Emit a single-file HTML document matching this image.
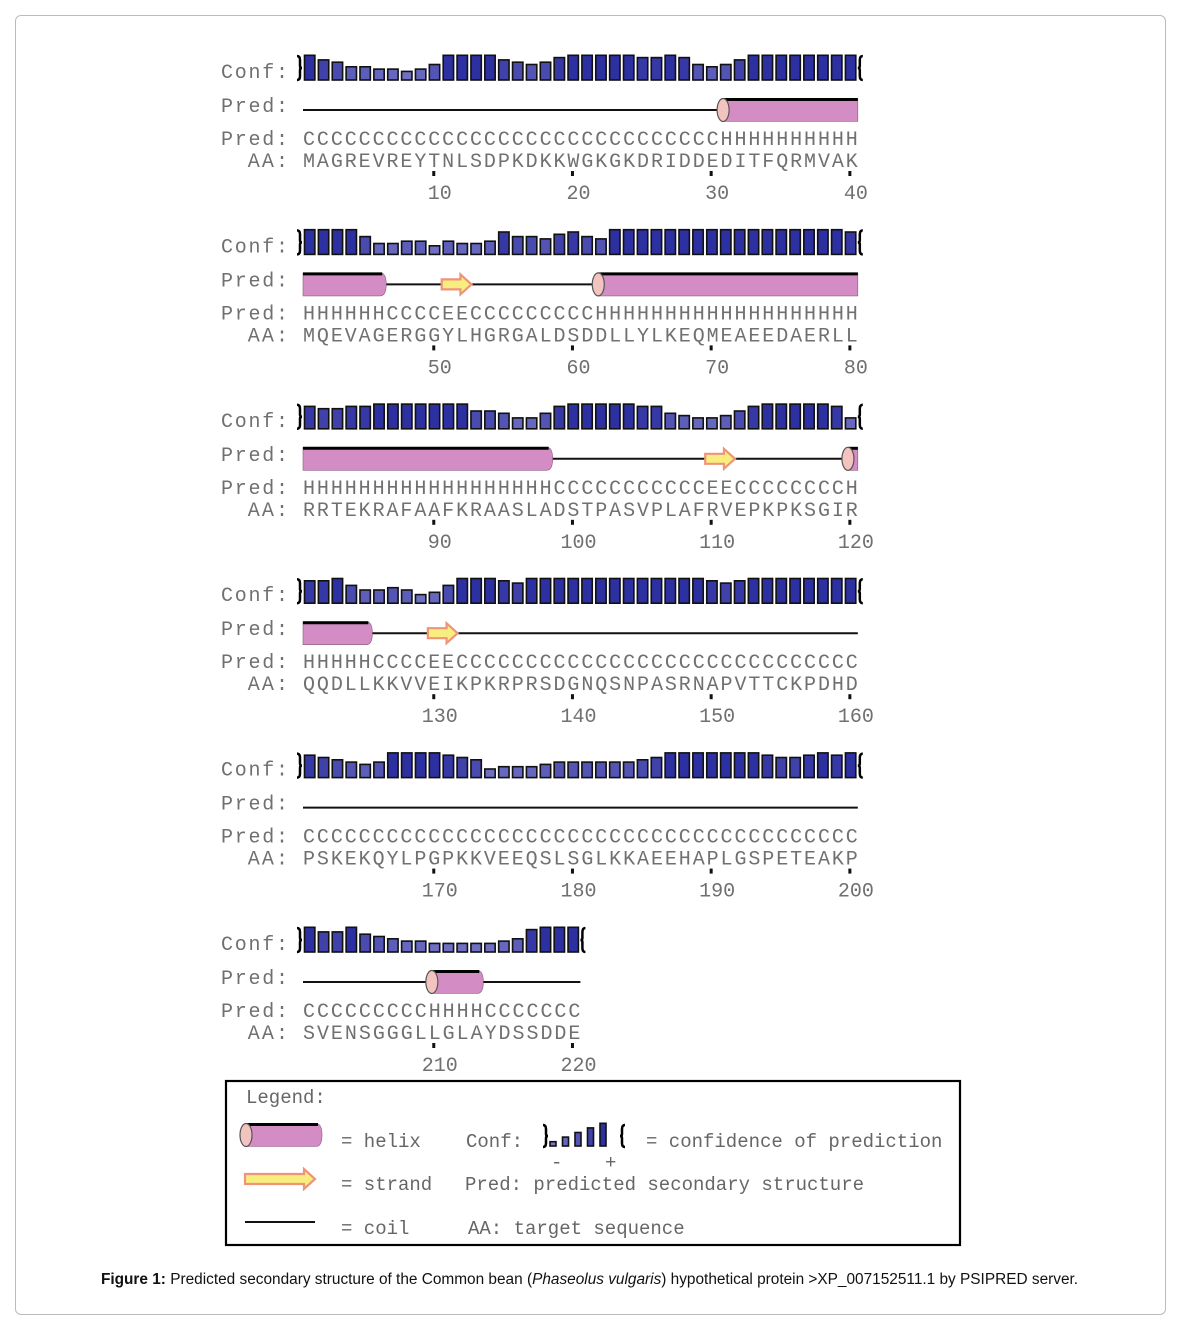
<!DOCTYPE html>
<html><head><meta charset="utf-8"><style>
body{margin:0;background:#fff;width:1179px;height:1323px;overflow:hidden;font-family:"Liberation Sans",sans-serif}
#frame{position:absolute;left:15px;top:15px;width:1149px;height:1298px;border:1px solid #bbb;border-radius:6px}
#cap{position:absolute;left:0;width:1179px;top:1271px;text-align:center;font-size:15.4px;color:#111}
svg{position:absolute;left:0;top:0}
</style></head><body>
<div id="frame"></div>
<svg id="chart" width="1179" height="1323"></svg>
<div id="cap"><b>Figure 1:</b> Predicted secondary structure of the Common bean (<i>Phaseolus vulgaris</i>) hypothetical protein &gt;XP_007152511.1 by PSIPRED server.</div>
<script>
const aaRows=["MAGREVREYTNLSDPKDKKWGKGKDRIDDEDITFQRMVAK","MQEVAGERGGYLHGRGALDSDDLLYLKEQMEAEEDAERLL","RRTEKRAFAAFKRAASLADSTPASVPLAFRVEPKPKSGIR","QQDLLKKVVEIKPKRPRSDGNQSNPASRNAPVTTCKPDHD","PSKEKQYLPGPKKVEEQSLSGLKKAEEHAPLGSPETEAKP","SVENSGGGLLGLAYDSSDDE"];
const predRows=["CCCCCCCCCCCCCCCCCCCCCCCCCCCCCCHHHHHHHHHH","HHHHHHCCCCEECCCCCCCCCHHHHHHHHHHHHHHHHHHH","HHHHHHHHHHHHHHHHHHCCCCCCCCCCCEECCCCCCCCH","HHHHHCCCCEECCCCCCCCCCCCCCCCCCCCCCCCCCCCC","CCCCCCCCCCCCCCCCCCCCCCCCCCCCCCCCCCCCCCCC","CCCCCCCCCHHHHCCCCCCC"];
const confRow1=[9,7,6,4,4,3,3,2,3,5,9,9,9,9,7,6,5,6,8,9,9,9,9,9,8,8,9,8,5,4,5,7,9,9,9,9,9,9,9,9];
const confRow2=[9,9,9,9,6,3,3,4,4,2,4,3,3,4,8,6,6,5,7,8,6,5,9,9,9,9,9,9,9,9,9,9,9,9,9,9,9,9,9,8];
const confRow3=[8,7,7,8,8,9,9,9,9,9,9,9,6,6,5,3,3,5,8,9,9,9,9,9,8,8,5,4,3,3,4,6,8,9,9,9,9,9,8,3];
const confRow4=[8,8,9,6,4,4,5,4,2,3,6,9,9,9,8,7,9,9,9,9,9,9,9,9,9,9,9,9,9,8,7,8,9,9,9,9,9,9,9,9];
const confRow5=[8,7,6,5,4,5,9,9,9,9,8,7,6,2,3,3,3,4,5,5,5,5,5,5,6,7,9,9,9,9,9,9,9,8,7,7,8,9,8,9];
const confRow6=[9,7,7,9,6,5,4,3,3,2,2,2,2,2,3,4,8,9,9,9];
const confRows=[confRow1,confRow2,confRow3,confRow4,confRow5,confRow6];
const tickLabels=[[10,20,30,40],[50,60,70,80],[90,100,110,120],[130,140,150,160],[170,180,190,200],[210,220]];

const NS="http://www.w3.org/2000/svg";
const svg=document.getElementById('chart');
const X0=303,P=13.87,ROWH=174.4;
function mk(tag,attrs,parent){const e=document.createElementNS(NS,tag);for(const k in attrs)e.setAttribute(k,attrs[k]);(parent||svg).appendChild(e);return e;}
function xL(i){return X0+i*P;}
function confH(v){return 4+v*2.3;}
function confCol(v){const t=v/9;const r=Math.round(130-t*85),g=Math.round(130-t*82),b=Math.round(205-t*45);return `rgb(${r},${g},${b})`;}
const mono='font-family:"Liberation Mono",monospace;font-size:20px;fill:#707070';
function label(txt,y,name){const t=mk('text',{x:288,y:y,'text-anchor':'end',textLength:txt.length*13.4,lengthAdjust:'spacing',style:mono});t.textContent=txt;

}
function seq(txt,y,name){const t=mk('text',{x:X0,y:y,textLength:txt.length*P,lengthAdjust:'spacing',style:mono});t.textContent=txt;

}
function helix(x1,x2,cy,leftCap,rightRound,g){
  const h=23,top=cy-h/2;
  const p=rightRound?`M${x1},${top} L${x2-6},${top} Q${x2},${top} ${x2},${cy} Q${x2},${top+h} ${x2-6},${top+h} L${x1},${top+h} Z`:`M${x1},${top} L${x2},${top} L${x2},${top+h} L${x1},${top+h} Z`;
  mk('path',{d:p,fill:'#d38cc4',stroke:'#8a5a80','stroke-width':0.6},g);
  mk('line',{x1:x1,y1:top+1,x2:rightRound?x2-4:x2,y2:top+1,stroke:'#000','stroke-width':3},g);
  if(leftCap)mk('ellipse',{cx:x1,cy:cy,rx:6,ry:h/2,fill:'#f3c3c0',stroke:'#555','stroke-width':1.2},g);
}
function strand(x1,x2,cy,g){
  const hh=5,ah=10,hx=x2-11;
  mk('path',{d:`M${x1},${cy-hh} L${hx},${cy-hh} L${hx},${cy-ah} L${x2},${cy} L${hx},${cy+ah} L${hx},${cy+hh} L${x1},${cy+hh} Z`,fill:'#f8ee80',stroke:'#ee9478','stroke-width':2.2},g);
}
for(let r=0;r<6;r++){
  const oy=r*ROWH,n=aaRows[r].length;
  const g=mk('g',{});
  
  
  label('Conf:',78+oy,'conf-label');label('Pred:',112+oy,'pred-label');label('Pred:',145+oy,'pred-seq-label');label('AA:',167+oy,'aa-label');
  const bot=80+oy;
  const lb=mk('path',{d:`M${X0-6},${bot-24} q3,0 3,4 v6 q0,2 2,2 q-2,0 -2,2 v6 q0,4 -3,4`,fill:'none',stroke:'#000','stroke-width':2.5},g);
  
  
  confRows[r].forEach((v,i)=>{const h=confH(v);
    const b=mk('rect',{x:xL(i)+1.5,y:bot-h,width:P-3.5,height:h,fill:confCol(v),stroke:'#111','stroke-width':1.6},g);
    
    });
  const xe=xL(n);
  const rb=mk('path',{d:`M${xe+5},${bot-24} q-3,0 -3,4 v6 q0,2 -2,2 q2,0 2,2 v6 q0,4 3,4`,fill:'none',stroke:'#000','stroke-width':2.5},g);
  
  
  const cy=110+oy,pr=predRows[r];
  const coil=mk('line',{x1:X0,y1:cy,x2:xe,y2:cy,stroke:'#111','stroke-width':2},g);
  
  
  let i=0;
  while(i<n){const c=pr[i];let j=i;while(j<n&&pr[j]===c)j++;
    if(c==='H'){const sg=mk('g',{},g);
      
      
      helix(xL(i)+(i===0?0:4),xL(j),cy,i>0,j<n,sg);}
    if(c==='E'){const sg=mk('g',{},g);
      
      
      strand(xL(i),xL(j)+2,cy,sg);}
    i=j;}
  seq(pr,145+oy,'pred-sequence');seq(aaRows[r],167+oy,'aa-sequence');
  tickLabels[r].forEach(v=>{const idx=(v-1)-r*40;const tx=xL(idx)+P/2-1;
    const tk=mk('rect',{x:tx-1.5,y:171+oy,width:3,height:5,fill:'#111'},g);
    
    
    const t=mk('text',{x:tx+6,y:199+oy,'text-anchor':'middle',style:mono},g);t.textContent=v;
    
    });
}
const lg=mk('g',{});


mk('rect',{x:226,y:1081,width:734,height:164,fill:'#fff',stroke:'#000','stroke-width':2.2},lg);
const ls='font-family:"Liberation Mono",monospace;font-size:19px;fill:#666';
function lt(x,y,s,name){const t=mk('text',{x:x,y:y,textLength:s.length*11.4,lengthAdjust:'spacing',style:ls},lg);t.textContent=s;
  
  }
lt(246,1103,'Legend:','legend-title');
helix(246,322,1135,true,true,lg);
lt(341,1147,'= helix','legend-helix-label');
strand(245,315,1179,lg);
lt(341,1190,'= strand','legend-strand-label');
mk('line',{x1:245,y1:1222,x2:315,y2:1222,stroke:'#111','stroke-width':2},lg);
lt(341,1234,'= coil','legend-coil-label');
lt(466,1147,'Conf:','legend-conf-label');
lt(646,1147,'= confidence of prediction','legend-conf-desc');
lt(465,1190,'Pred: predicted secondary structure','legend-pred-desc');
lt(468,1234,'AA: target sequence','legend-aa-desc');
mk('path',{d:'M543,1125 q3,0 3,4 v5 q0,2 2,2 q-2,0 -2,2 v5 q0,4 -3,4',fill:'none',stroke:'#000','stroke-width':2.5},lg);
[1,3,5,7,9].forEach((v,k)=>{const h=confH(v)-2;mk('rect',{x:550+k*12.5,y:1146-h,width:6,height:h,fill:confCol(v),stroke:'#111','stroke-width':1.6},lg);});
mk('path',{d:'M625,1125 q-3,0 -3,4 v5 q0,2 -2,2 q2,0 2,2 v5 q0,4 3,4',fill:'none',stroke:'#000','stroke-width':2.5},lg);
lt(551,1168,'-','legend-minus');lt(605,1168,'+','legend-plus');
</script>
</body></html>
